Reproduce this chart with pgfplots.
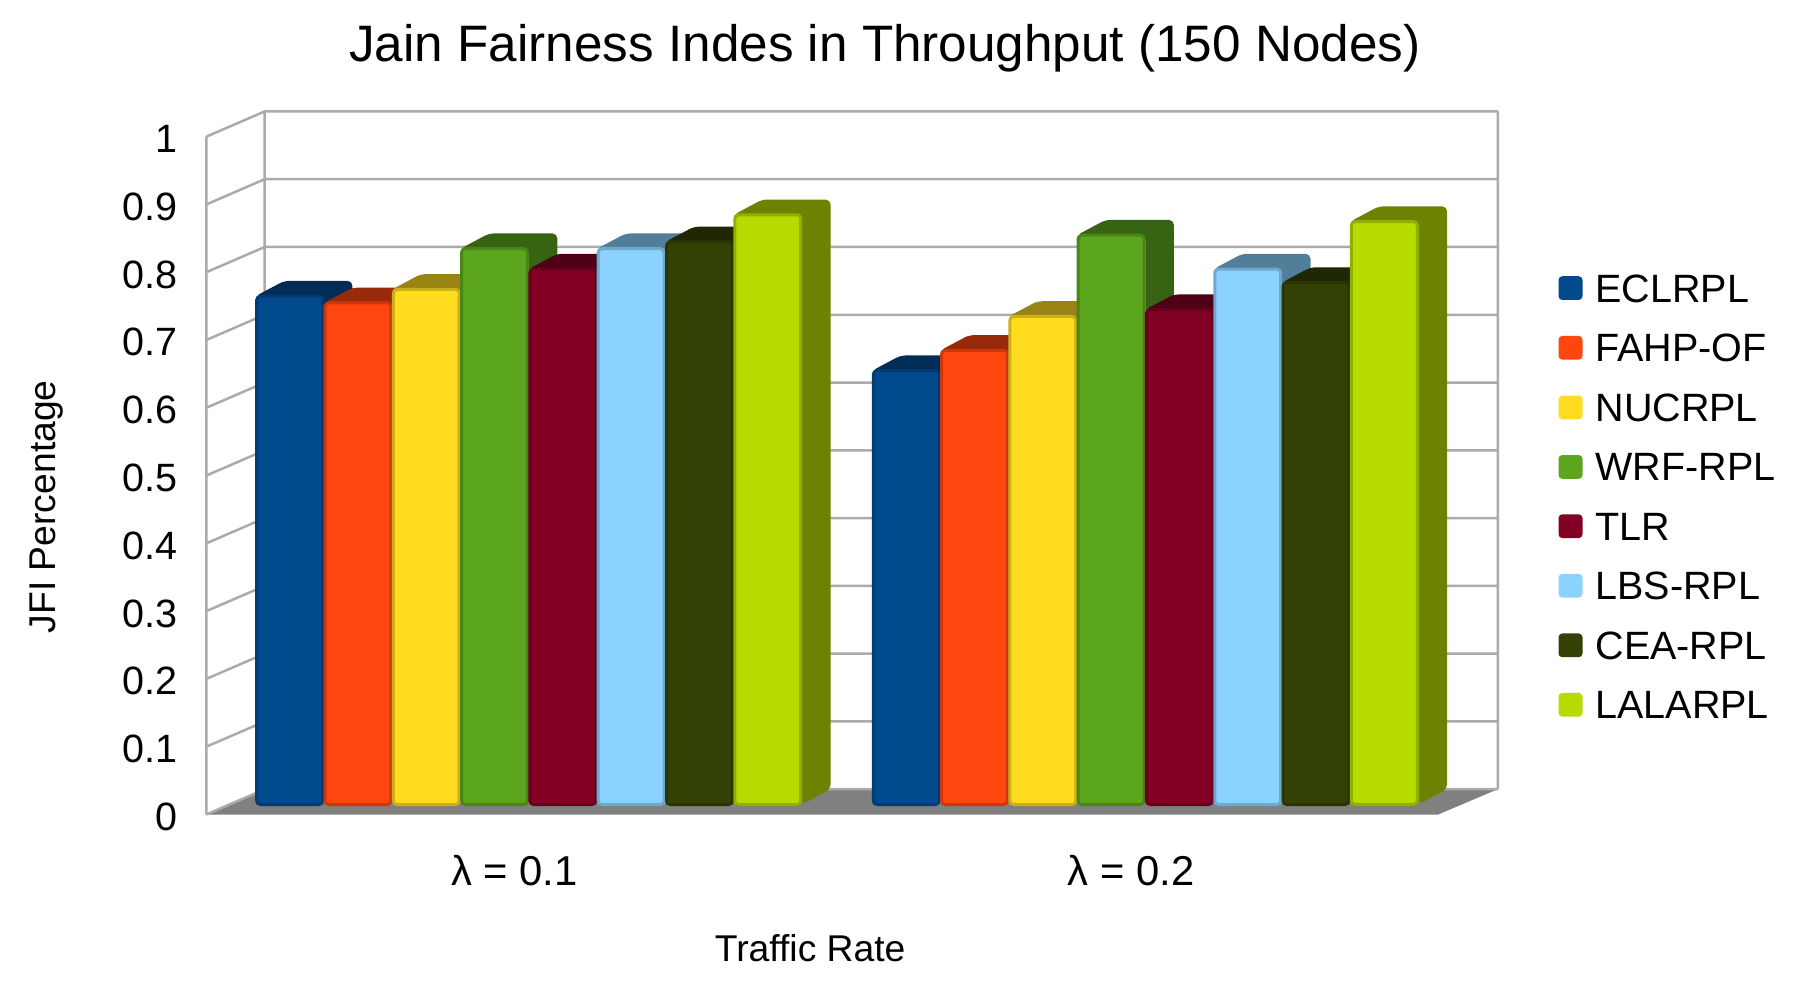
\documentclass[border=0pt]{standalone}
\usepackage{fontspec}
\setmainfont{Liberation Sans}
\usepackage{pgfplots}
\pgfplotsset{compat=1.18}

\definecolor{eclrpl}{HTML}{004A8D}
\definecolor{fahpof}{HTML}{FF460F}
\definecolor{nucrpl}{HTML}{FFDC20}
\definecolor{wrfrpl}{HTML}{5CA61E}
\definecolor{tlr}{HTML}{820024}
\definecolor{lbsrpl}{HTML}{8AD2FF}
\definecolor{cearpl}{HTML}{334204}
\definecolor{lalarpl}{HTML}{B5DB00}

% top and side of a bar, one polygon: fill, left x, right x, value
\newcommand\sideface[4]{%
  \pgfmathsetmacro\vtop{#4+0.0225}%
  \pgfmathsetmacro\xla{#2+25}%
  \pgfmathsetmacro\xra{#3+25}%
  \addplot[fill=#1!60!black, draw=none, forget plot, yshift=4pt, rounded corners=2pt]
    coordinates {(#2,#4) (\xla,\vtop) (\xra,\vtop) (\xra,0.0225) (#3,0) (#3,#4)} --cycle;
}
% one series: colour, centre and value in group 1, centre and value in group 2
\newcommand\barseries[6]{%
  \sideface{#1}{#2-29.8}{#2+29.8}{#3}
  \sideface{#1}{#4-29.8}{#4+29.8}{#5}
  \addplot[ybar, bar shift=0pt, bar width=57.5, yshift=4pt, fill=#1, draw=#1!80!black,
    line width=1.2pt, rounded corners=1.5pt]
    coordinates {(#2,#3) (#4,#5)};
  \addlegendentry{#6}
}

\begin{document}
\begin{tikzpicture}
\useasboundingbox (0,0) rectangle (718.8pt,394.8pt);
\begin{axis}[
    at={(82.5pt,69pt)},
    anchor=south west,
    scale only axis,
    width=516.6pt,
    height=281.7pt,
    xmin=180, xmax=1307,
    ymin=0, ymax=1.039,
    clip=false,
    axis line style={draw=none},
    major tick length=0pt,
    tick style={draw=none},
    xtick={449,987},
    xticklabels={\fontsize{16.7pt}{19pt}\selectfont λ = 0.1, \fontsize{16.7pt}{19pt}\selectfont λ = 0.2},
    ytick={0,0.1,0.2,0.3,0.4,0.5,0.6,0.7,0.8,0.9,1},
    yticklabels={0,0.1,0.2,0.3,0.4,0.5,0.6,0.7,0.8,0.9,1},
    yticklabel style={inner sep=0pt, xshift=-11.5pt, yshift=-0.9pt},
    xticklabel style={anchor=center, yshift=-22.5pt},
    tick label style={font=\fontsize{15.8pt}{18pt}\selectfont},
    title={Jain Fairness Indes in Throughput (150 Nodes)},
    title style={at={(axis description cs:0.5255,1.0667)}, anchor=center,
      font=\fontsize{20.5pt}{24pt}\selectfont},
    xlabel={Traffic Rate},
    xlabel style={at={(axis description cs:0.4676,-0.19)}, anchor=center,
      font=\fontsize{14.9pt}{17pt}\selectfont},
    ylabel={JFI Percentage},
    ylabel style={at={(axis description cs:-0.1233,0.437)}, anchor=center,
      font=\fontsize{14.9pt}{17pt}\selectfont},
    legend style={at={(axis cs:1360,0.804)}, anchor=north west, draw=none, fill=none,
      inner sep=0pt, outer sep=0pt, row sep=7.34pt, column sep=3.2pt,
      font=\fontsize{15.8pt}{18pt}\selectfont},
    legend cell align=left,
    legend image code/.code={\fill[#1,draw=none,yshift=-9pt] (0pt,1.1pt) rectangle (9.6pt,10.6pt);},
]
% floor
\addplot[fill=black!50, draw=none, forget plot]
  coordinates {(180,0) (231,0.0373) (1307,0.0373) (1255,0)} --cycle;
% back wall and left wall
\addplot[color=black!33, line width=1pt, forget plot, unbounded coords=jump] coordinates {
  (180,0) (231,0.0373) (1307,0.0373) (nan,nan)
  (180,0.1) (231,0.1373) (1307,0.1373) (nan,nan)
  (180,0.2) (231,0.2373) (1307,0.2373) (nan,nan)
  (180,0.3) (231,0.3373) (1307,0.3373) (nan,nan)
  (180,0.4) (231,0.4373) (1307,0.4373) (nan,nan)
  (180,0.5) (231,0.5373) (1307,0.5373) (nan,nan)
  (180,0.6) (231,0.6373) (1307,0.6373) (nan,nan)
  (180,0.7) (231,0.7373) (1307,0.7373) (nan,nan)
  (180,0.8) (231,0.8373) (1307,0.8373) (nan,nan)
  (180,0.9) (231,0.9373) (1307,0.9373) (nan,nan)
  (180,1) (231,1.0373) (1307,1.0373) (nan,nan)
  (180,0) (180,1) (nan,nan)
  (231,0.0373) (231,1.0373) (nan,nan)
  (1307,0.0373) (1307,1.0373)
};
\barseries{eclrpl}{252.8}{0.75}{790.8}{0.64}{ECLRPL}
\barseries{fahpof}{312.4}{0.74}{850.4}{0.67}{FAHP-OF}
\barseries{nucrpl}{372.0}{0.76}{910.0}{0.72}{NUCRPL}
\barseries{wrfrpl}{431.6}{0.82}{969.6}{0.84}{WRF-RPL}
\barseries{tlr}{491.2}{0.79}{1029.2}{0.73}{TLR}
\barseries{lbsrpl}{550.8}{0.82}{1088.8}{0.79}{LBS-RPL}
\barseries{cearpl}{610.4}{0.83}{1148.4}{0.77}{CEA-RPL}
\barseries{lalarpl}{670.0}{0.87}{1208.0}{0.86}{LALARPL}
\end{axis}
\end{tikzpicture}
\end{document}
